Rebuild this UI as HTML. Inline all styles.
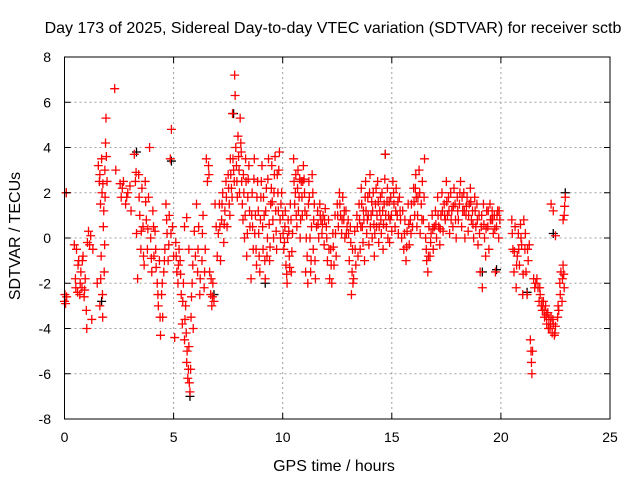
<!DOCTYPE html>
<html><head><meta charset="utf-8"><style>
html,body{margin:0;padding:0;background:#fff;}
svg{display:block;font-family:"Liberation Sans",sans-serif;}
</style></head><body>
<svg id="chart" width="640" height="480" viewBox="0 0 640 480">
<rect width="640" height="480" fill="#fff"/>
<g id="grid"></g>
<g id="marks"></g>
<rect x="64.5" y="57" width="545.5" height="362" fill="none" stroke="#000" stroke-width="1"/>
<g id="ticks"></g>
<text x="333" y="33" font-size="16" text-anchor="middle">Day 173 of 2025, Sidereal Day-to-day VTEC variation (SDTVAR) for receiver sctb</text>
<text x="334" y="471" font-size="16" text-anchor="middle">GPS time / hours</text>
<text x="20" y="236" font-size="16" text-anchor="middle" transform="rotate(-90 20 236)">SDTVAR / TECUs</text>
</svg>
<script>
const xTicks = [0,5,10,15,20,25];
const yTicks = [-8,-6,-4,-2,0,2,4,6,8];
const sdtvarBlack = [[0.08,2.0],[1.7,-2.8],[5.75,-7.0],[6.85,-2.5],[7.75,5.5],[9.2,-2.0],[14.7,3.7],[19.15,-1.5],[19.8,-1.4],[21.2,-2.4],[22.4,0.2],[22.95,2.0],[4.9,3.4],[3.3,3.8]];
const sdtvarRed = [
[0,-2.8],[0.02,-2.5],[0.05,-2.9],[0.08,2.0],[0.1,-2.6],
[0.45,-0.3],[0.5,-1.8],[0.55,-0.5],[0.6,-2.4],[0.65,-1.0],[0.7,-2.5],[0.75,-1.5],[0.8,-2.2],[0.85,-0.8],[0.9,-2.6],[0.95,-1.8],[1.0,-3.2],[1.02,-4.0],[1.05,-0.2],[1.1,0.3],[1.15,-0.3],[1.2,0.1],[1.3,-0.5],[1.25,-3.6],
[1.5,-2.0],[1.55,3.2],[1.6,2.5],[1.62,-3.0],[1.65,1.5],[1.68,-0.8],[1.7,3.5],[1.72,2.0],[1.75,-3.5],[1.78,0.5],[1.8,1.2],[1.82,-1.5],[1.85,3.0],[1.88,4.2],[1.9,5.3],[1.92,3.6],[1.95,2.5],
[2.3,6.6],[2.35,3.0],
[2.55,2.4],[2.6,1.8],[2.7,2.5],[2.8,1.5],[2.9,2.0],[3.0,2.3],[3.05,1.2],
[3.2,3.7],[3.25,2.5],[3.3,0.2],[3.35,-1.8],[3.4,2.8],[3.45,1.0],[3.5,-0.5],[3.55,2.2],[3.6,0.5],
[3.65,-1.2],[3.7,2.5],[3.75,0.8],[3.8,-0.5],[3.85,1.8],[3.9,4.0],[3.95,0.0],[4.0,-1.5],[4.05,1.2],[4.1,-0.8],[4.15,0.3],[4.2,-1.3],
[4.25,-2.0],[4.3,-3.0],[4.35,-1.0],[4.4,-4.3],[4.45,-2.5],[4.5,-3.5],[4.55,-1.5],[4.6,-0.5],
[4.65,1.5],[4.7,0.2],[4.75,-1.0],[4.8,1.0],[4.85,3.5],[4.9,4.8],[4.95,0.5],[5.0,-0.8],[5.05,-4.4],
[5.1,-0.2],[5.15,-1.5],[5.2,-2.0],[5.25,-0.5],
[5.3,-1.0],[5.35,-2.5],[5.4,-3.8],[5.45,-2.0],[5.5,-4.5],[5.55,-3.0],[5.6,-5.5],[5.65,-6.2],[5.7,-4.8],[5.75,-6.8],[5.78,-5.8],[5.8,-3.5],[5.5,0.5],[5.6,0.9],[5.7,-0.5],
[5.85,-2.0],[5.9,-4.0],[5.95,0.3],
[6.0,-0.8],[6.05,1.5],[6.1,-1.5],[6.15,0.5],[6.2,-2.5],[6.3,-1.0],[6.35,1.0],[6.4,-2.2],[6.45,-0.5],
[6.5,3.5],[6.55,2.5],[6.6,3.2],[6.65,-1.5],[6.7,-2.5],[6.75,-3.0],[6.8,-2.0],[6.85,-2.8],[6.9,1.5],[6.95,0.5],
[7.0,-0.8],[7.05,0.2],[7.1,1.5],[7.15,-1.0],[7.2,0.8],[7.25,2.0],[7.3,-0.2],[7.35,1.2],[7.4,2.5],[7.45,0.5],
[7.5,2.8],[7.55,1.5],[7.6,3.5],[7.65,2.2],[7.7,5.5],[7.75,3.0],[7.8,7.2],[7.82,6.3],[7.85,4.0],[7.9,2.5],[7.95,4.5],[8.0,3.0],
[8.05,5.3],[8.1,3.8],[8.15,1.5],[8.2,2.8],[8.25,0.0],[8.3,3.5],[8.35,-0.8],[8.4,1.8],[8.45,3.2],[8.5,0.5],
[8.55,-1.8],[8.6,2.0],[8.65,-0.5],[8.7,3.5],[8.75,1.0],[8.8,-1.2],[8.85,2.5],[8.9,0.2],[8.95,-1.5],[9.0,1.8],[9.05,3.2],[9.1,-0.5],[9.15,1.0],[9.2,-1.8],[9.25,2.2],[9.3,0.0],[9.35,3.5],[9.4,-1.0],[9.45,1.5],
[9.5,3.2],[9.55,0.8],[9.6,2.0],[9.65,3.6],[9.7,0.3],[9.75,2.8],[9.8,1.2],[9.85,3.8],[9.9,0.0],[9.95,2.0],
[10.0,1.0],[10.05,-0.5],[10.1,0.5],[10.15,-1.2],[10.2,-2.0],[10.25,0.8],[10.3,-0.8],[10.35,1.5],[10.4,-1.5],[10.45,0.2],
[10.5,3.5],[10.55,1.5],[10.6,2.8],[10.65,0.5],[10.7,3.0],[10.75,1.8],[10.8,0.0],[10.85,2.5],[10.9,1.0],[10.95,3.2],
[11.0,2.0],[11.05,-1.5],[11.1,1.0],[11.15,-2.0],[11.2,2.5],[11.25,0.0],[11.3,-1.0],[11.35,2.8],[11.4,-0.5],[11.45,1.5],[11.5,-1.8],
[11.55,0.5],[11.6,1.2],[11.65,0.0],[11.7,1.5],[11.75,0.8],[11.8,0.2],[11.85,1.0],[11.9,-0.3],[11.95,1.3],
[12.0,0.5],[12.05,-1.0],[12.1,0.8],[12.15,-1.8],[12.2,-0.5],[12.25,-2.0],[12.3,0.2],[12.35,-1.2],[12.4,1.0],[12.45,-0.8],
[12.5,1.5],[12.55,0.5],[12.6,2.0],[12.65,1.0],[12.7,0.2],[12.75,1.8],[12.8,0.8],[12.85,0.0],[12.9,1.2],[12.95,0.5],
[13.0,0.8],[13.05,-1.0],[13.1,0.5],[13.15,-2.5],[13.2,-0.5],[13.25,-1.8],[13.3,0.3],[13.35,-1.2],[13.4,1.0],[13.45,-0.8],
[13.5,1.5],[13.55,-0.5],[13.6,2.2],[13.65,0.5],[13.7,1.2],[13.75,-1.0],[13.8,2.5],[13.85,0.2],[13.9,1.8],[13.95,-0.3],[14.0,2.8],[14.05,1.0],[14.1,0.0],[14.15,2.0],[14.2,-0.8],[14.25,1.5],[14.3,0.5],[14.35,2.5],[14.4,-0.2],[14.45,1.2],[14.5,0.8],[14.55,2.0],[14.6,-0.5],[14.65,1.5],[14.7,3.7],[14.75,0.5],[14.8,2.2],[14.85,1.0],[14.9,-0.2],[14.95,1.8],[15.0,0.3],
[15.05,2.5],[15.1,1.5],[15.15,0.5],[15.2,2.2],[15.25,1.0],[15.3,0.2],[15.35,1.8],[15.4,0.8],[15.45,0.0],
[15.5,1.2],[15.55,-0.5],[15.6,0.8],[15.65,-1.0],[15.7,0.3],[15.75,1.5],[15.8,-0.3],[15.85,0.8],[15.9,1.5],[15.95,0.5],
[16.0,2.2],[16.05,1.0],[16.1,2.8],[16.15,0.5],[16.2,1.8],[16.25,3.0],[16.3,0.2],[16.35,1.5],[16.4,2.5],[16.45,0.8],
[16.5,3.5],[16.55,0.0],[16.6,-1.0],[16.65,-1.5],[16.7,0.5],[16.75,-0.8],[16.8,0.2],[16.85,1.0],[16.9,-0.5],[16.95,0.5],
[17.0,1.2],[17.05,0.0],[17.1,1.8],[17.15,0.5],[17.2,-0.3],[17.25,1.0],[17.3,2.0],[17.35,0.3],[17.4,1.5],[17.45,0.8],
[17.5,2.5],[17.55,1.0],[17.6,1.8],[17.65,0.2],[17.7,2.0],[17.75,1.2],[17.8,0.5],[17.85,2.2],[17.9,1.5],[17.95,0.0],
[18.0,1.8],[18.05,0.8],[18.1,1.5],[18.15,2.5],[18.2,0.5],[18.25,1.2],[18.3,2.0],[18.35,0.0],[18.4,1.0],[18.45,1.8],[18.5,0.3],[18.55,1.5],[18.6,2.2],[18.65,0.8],[18.7,1.2],[18.75,0.0],[18.8,1.8],[18.85,0.5],[18.9,1.5],[18.95,-0.3],
[19.0,1.0],[19.05,-1.5],[19.1,0.5],[19.15,-2.2],[19.2,1.5],[19.25,0.0],[19.3,-0.8],[19.35,1.2],[19.4,0.5],[19.45,-0.5],
[19.5,1.5],[19.55,0.8],[19.6,1.2],[19.65,0.2],[19.7,1.0],[19.75,-1.5],[19.8,0.5],[19.85,1.2],[19.9,0.0],[19.95,0.8],
[20.5,0.8],[20.55,-0.5],[20.6,-1.5],[20.65,0.5],[20.7,-2.2],[20.75,-0.8],[20.8,0.2],[20.85,-1.2],[20.9,0.6],[20.95,-0.3],[21.0,-2.5],
[21.05,0.8],[21.1,-0.5],[21.15,-1.5],[21.2,-2.5],[21.25,-1.0],[21.3,-0.3],
[21.35,-4.5],[21.4,-5.5],[21.42,-6.0],[21.45,-5.0],
[21.5,-1.8],[21.6,-2.0],[21.7,-2.2],[21.75,-2.8],[21.8,-2.5],[21.85,-3.0],[21.9,-3.2],[21.95,-2.8],[22.0,-3.5],[22.05,-3.0],[22.1,-3.8],[22.15,-3.3],[22.2,-3.6],[22.25,-4.0],[22.3,-3.5],[22.35,-4.2],[22.4,-3.8],[22.45,-4.3],[22.5,-3.9],
[22.3,1.5],[22.4,1.2],[22.5,0.1],
[22.6,-3.5],[22.65,-3.2],[22.7,-2.0],[22.75,-1.5],[22.8,-2.8],[22.85,-1.2],[22.9,1.0],[22.95,1.8],[22.85,0.8],[22.9,-2.2]
];
const sdtvarRedExtra = [
[0.52,-2.2],[0.62,-1.2],[0.72,-2.0],[0.82,-1.0],[0.92,-2.3],[1.62,2.8],[1.66,-1.8],[1.74,-2.5],[1.76,2.4],[1.84,-0.3],[1.86,1.8],
[2.65,2.2],[2.85,1.8],[3.28,2.9],[3.42,1.8],[3.52,0.3],[3.62,-0.8],[3.72,1.6],[3.82,0.4],[3.98,-0.9],[4.08,0.5],[4.18,-0.5],
[4.28,-2.5],[4.38,-3.5],[4.48,-2.0],[4.58,-1.0],[4.68,0.8],[4.78,-0.3],[4.88,0.2],[5.12,-0.8],[5.22,-1.2],[5.32,-1.6],[5.42,-2.8],
[5.52,-3.6],[5.58,-4.2],[5.62,-5.0],[5.68,-5.8],[5.72,-6.4],[5.82,-2.6],[5.88,-1.2],[6.12,-0.5],[6.22,-1.8],[6.32,0.2],[6.42,-1.5],
[6.62,2.8],[6.72,-1.8],[6.78,-2.6],[7.12,0.5],[7.22,1.5],[7.32,0.6],[7.42,1.8],[7.52,2.2],[7.58,1.0],[7.62,2.8],[7.68,1.8],[7.72,3.5],
[7.78,2.5],[7.88,3.2],[7.92,1.8],[7.98,3.6],[8.02,2.0],[8.08,4.2],[8.12,2.5],[8.18,0.8],[8.22,2.0],[8.28,1.0],[8.32,2.5],[8.38,0.2],
[8.42,2.6],[8.48,1.2],[8.58,1.0],[8.62,0.5],[8.68,2.6],[8.72,0.2],[8.78,-0.5],[8.82,1.8],[8.88,1.2],[8.92,-0.8],[8.98,0.8],[9.02,2.5],
[9.08,0.5],[9.12,1.8],[9.18,-1.0],[9.22,1.2],[9.28,-0.8],[9.32,2.6],[9.38,0.6],[9.42,-0.4],[9.48,2.2],[9.52,1.6],[9.58,0.0],[9.62,2.8],
[9.68,1.2],[9.72,-0.5],[9.78,2.0],[9.82,3.0],[9.88,0.8],[9.92,1.5],[10.02,0.2],[10.08,-0.2],[10.12,1.2],[10.18,-1.6],[10.22,0.0],
[10.28,0.3],[10.32,-1.3],[10.38,0.8],[10.42,-0.6],[10.52,2.5],[10.58,2.0],[10.62,1.0],[10.68,2.2],[10.72,1.2],[10.78,2.6],[10.82,0.8],
[10.88,1.8],[10.92,2.5],[10.98,2.6],[11.02,1.2],[11.08,0.0],[11.12,-0.8],[11.18,1.5],[11.22,1.8],[11.28,-1.5],[11.32,0.5],[11.38,2.0],
[11.42,0.8],[11.48,-1.0],[11.62,0.6],[11.72,1.0],[11.82,0.6],[11.92,0.8],[12.02,0.0],[12.12,-0.5],[12.22,-1.2],[12.32,-0.4],[12.42,0.2],
[12.52,1.0],[12.62,1.5],[12.72,0.8],[12.82,1.2],[12.92,0.2],[13.02,0.2],[13.12,-0.2],[13.18,-1.5],[13.22,-2.0],[13.32,-0.5],[13.42,0.5],
[13.52,0.8],[13.58,0.5],[13.62,1.5],[13.68,-0.2],[13.72,0.8],[13.78,1.8],[13.82,1.2],[13.88,0.8],[13.92,1.0],[13.98,2.0],[14.02,0.5],
[14.08,1.6],[14.12,1.2],[14.18,0.6],[14.22,0.2],[14.28,2.2],[14.32,1.0],[14.38,1.6],[14.42,0.5],[14.48,1.8],[14.52,0.2],[14.58,1.2],
[14.62,0.6],[14.68,2.6],[14.72,1.0],[14.78,1.6],[14.82,0.0],[14.88,1.6],[14.92,0.8],[14.98,1.0],[15.08,2.0],[15.18,1.2],[15.28,1.6],
[15.38,1.2],[15.58,0.2],[15.68,-0.4],[15.78,0.6],[15.88,0.2],[16.02,1.6],[16.08,2.2],[16.12,1.8],[16.18,1.0],[16.28,2.0],[16.38,0.8],
[16.48,1.8],[16.58,-0.5],[16.68,-0.8],[16.78,-0.2],[16.88,0.4],[17.02,0.6],[17.12,1.0],[17.22,0.4],[17.32,1.2],[17.42,1.0],[17.52,1.6],
[17.62,1.2],[17.72,0.8],[17.82,1.4],[17.92,0.8],[18.02,1.2],[18.12,2.0],[18.22,1.8],[18.32,1.2],[18.42,1.4],[18.52,1.0],[18.62,1.6],
[18.72,0.6],[18.82,1.2],[18.92,0.8],[19.02,0.2],[19.12,1.0],[19.22,0.6],[19.32,0.4],[19.42,1.2],[19.52,0.8],[19.62,0.8],[19.72,0.4],
[19.82,1.0],[19.92,1.2],[20.52,0.2],[20.62,-0.6],[20.72,-1.2],[20.82,-0.5],[20.92,0.0],[21.02,-1.6],[21.12,0.2],[21.22,-0.5],[21.38,-5.0],
[21.55,-2.2],[21.65,-1.8],[21.78,-2.2],[21.88,-2.8],[21.98,-3.2],[22.08,-3.4],[22.18,-4.0],[22.28,-3.8],[22.38,-3.6],[22.48,-4.2],
[22.62,-3.0],[22.72,-2.5],[22.82,-1.8],[22.92,1.4],[22.88,-1.6]
];
const NS='http://www.w3.org/2000/svg';
const X0=64.5,X1=610,Y0=419,Y1=57;
function xs(t){return X0+(t-0)/(25-0)*(X1-X0);}
function ys(v){return Y0-(v+8)/16*(Y0-Y1);}
const grid=document.getElementById('grid'),ticks=document.getElementById('ticks'),marks=document.getElementById('marks');
function mk(tag,attrs,parent){const e=document.createElementNS(NS,tag);for(const k in attrs)e.setAttribute(k,attrs[k]);parent.appendChild(e);return e;}
xTicks.forEach(t=>{
  const x=xs(t);
  if(t>0&&t<25){const g=mk('line',{x1:x,y1:Y1,x2:x,y2:Y0,stroke:'#a0a0a0','stroke-dasharray':'2,3'},grid);
  
  }
  mk('line',{x1:x,y1:Y0,x2:x,y2:Y0-6,stroke:'#000'},ticks);
  mk('line',{x1:x,y1:Y1,x2:x,y2:Y1+6,stroke:'#000'},ticks);
  const l=mk('text',{x:x,y:442,'font-size':14,'text-anchor':'middle'},ticks);l.textContent=t;
  
  
});
yTicks.forEach(v=>{
  const y=ys(v);
  if(v>-8&&v<8){const g=mk('line',{x1:X0,y1:y,x2:X1,y2:y,stroke:'#a0a0a0','stroke-dasharray':'2,3'},grid);
  
  }
  mk('line',{x1:X0,y1:y,x2:X0+6,y2:y,stroke:'#000'},ticks);
  mk('line',{x1:X1,y1:y,x2:X1-6,y2:y,stroke:'#000'},ticks);
  const l=mk('text',{x:51,y:y+5,'font-size':14,'text-anchor':'end'},ticks);l.textContent=v;
  
  
});
function plus(data,color,name){
  let d='';
  data.forEach(p=>{const x=xs(p[0]),y=ys(p[1]);d+=`M${x-4.5},${y}h9M${x},${y-4.5}v9`;});
  const e=mk('path',{d:d,stroke:color,'stroke-width':1.3,fill:'none'},marks);
  
  
}
plus(sdtvarBlack,'#000','series-black-points');
plus(sdtvarRed,'#ff0000','series-red-points');
plus(sdtvarRedExtra,'#ff0000','series-red-points-extra');
</script>
</body></html>
